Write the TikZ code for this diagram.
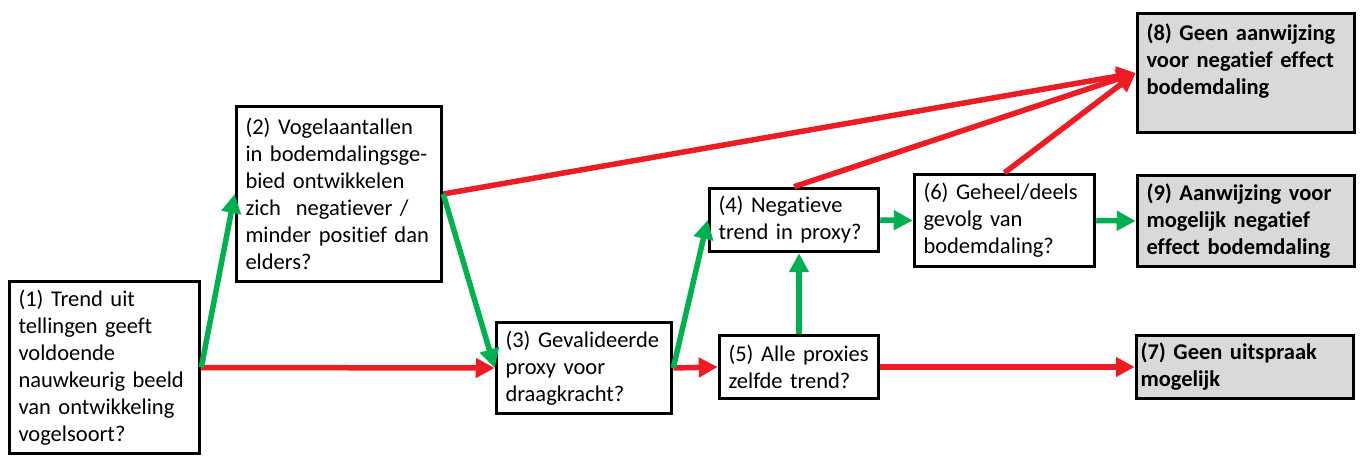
\documentclass[tikz,border=0pt]{standalone}
\usepackage{fontspec}
\setmainfont{Carlito}[Ligatures=NoCommon]
\usepackage{tikz}
\usetikzlibrary{arrows.meta}
\definecolor{jagreen}{RGB}{0,176,80}
\definecolor{neered}{RGB}{236,28,36}
\definecolor{eindgray}{RGB}{217,217,217}
\tikzset{block/.style={rectangle,draw,line width=3.5pt,fill=white,align=left,inner xsep=9pt,inner ysep=6pt,font=\fontsize{22.5}{27}\selectfont},
         endblock/.style={block,fill=eindgray,font=\fontsize{22.5}{27}\selectfont\bfseries},
         ja/.style={-{Triangle[length=19pt,width=19pt]},line width=5.5pt,draw=jagreen},
         nee/.style={-{Triangle[length=19pt,width=19pt]},line width=5.5pt,draw=neered}}

\begin{document}
\begin{tikzpicture}[x=1pt,y=-1pt]
    \useasboundingbox (0,0) rectangle (1361,457);
    \node (tel) [block, text width=172pt, minimum height=172pt] at (104.5,367.5) {(1) Trend uit\\tellingen geeft\\voldoende\\nauwkeurig beeld\\van ontwikkeling\\vogelsoort?};
    \node (vog) [block, text width=187pt, minimum height=175pt] at (339,194) {(2) Vogelaantallen\\in bodemdalingsge-\\bied ontwikkelen\\zich~ negatiever /\\minder positief dan\\elders?};
    \node (prx) [block, text width=157pt, minimum height=91pt] at (584,368) {(3) Gevalideerde\\proxy voor\\draagkracht?};
    \node (neg) [block, text width=151pt, minimum height=63pt] at (794,220) {(4) Negatieve\\trend in proxy?};
    \node (alle) [block, text width=141pt, minimum height=63pt] at (799,367) {(5) Alle proxies\\zelfde trend?};
    \node (gev) [block, text width=162pt, minimum height=92pt] at (1004.5,220.5) {(6) Geheel/deels\\gevolg van\\bodemdaling?};
    \node (uitspr) [endblock, inner xsep=4pt, text width=209pt, minimum height=63pt] at (1245,367) {(7) Geen uitspraak\\mogelijk};
    \node (geenaw) [endblock, text width=199pt, minimum height=119pt] at (1246,73) {(8) Geen aanwijzing\\voor negatief effect\\bodemdaling\\\mbox{}};
    \node (aanw) [endblock, text width=199pt, minimum height=91pt] at (1246,221) {(9) Aanwijzing voor\\mogelijk negatief\\effect bodemdaling};
    \draw[nee] (tel.east) -- (prx.west);
    \draw[nee] (vog.east) -- (geenaw.west);
    \draw[nee] (neg.north) -- (geenaw.west);
    \draw[nee] (gev.north) -- (geenaw.west);
    \draw[nee] (prx.east) -- (alle.west);
    \draw[nee] (alle.east) -- (uitspr.west);
    \draw[ja] (tel.east) -- (vog.west);
    \draw[ja] (vog.east) -- (prx.west);
    \draw[ja] (prx.east) -- (neg.west);
    \draw[ja] (alle.north) -- (alle.north |- neg.south);
    \draw[ja] (neg.east) -- (gev.west);
    \draw[ja] (gev.east) -- (aanw.west);
  \end{tikzpicture}
\end{document}
